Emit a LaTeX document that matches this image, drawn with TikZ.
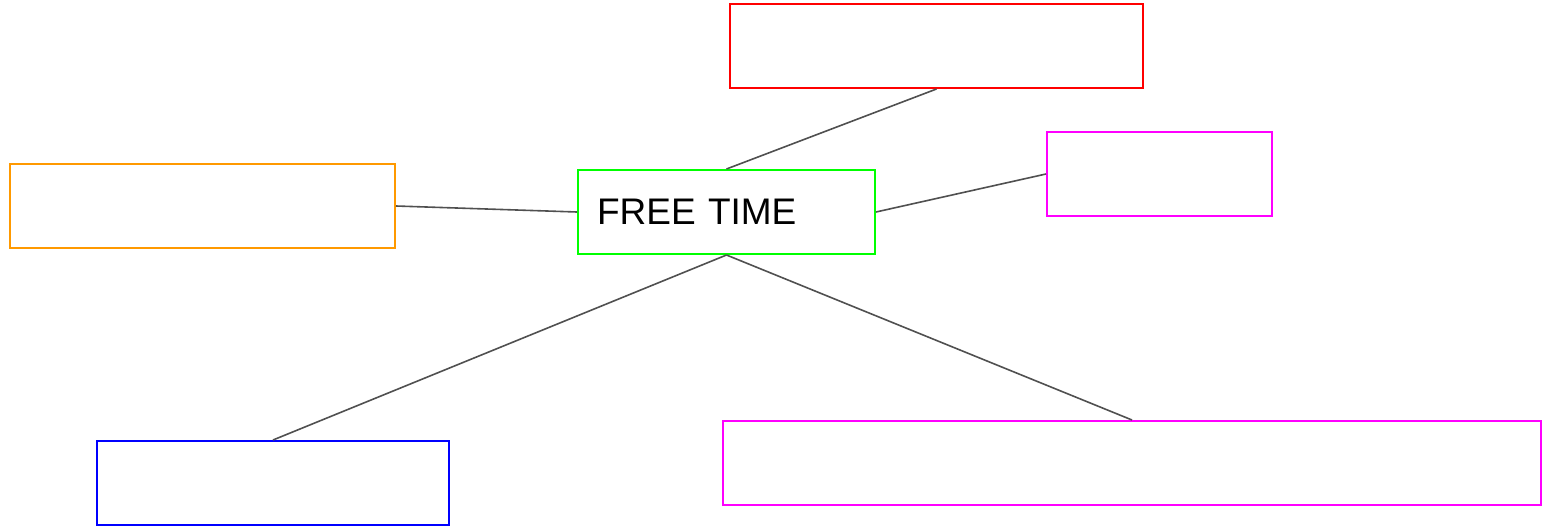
\documentclass[tikz,border=0pt]{standalone}
\usepackage{fontspec}
\setmainfont{Liberation Sans}
\usetikzlibrary{positioning}
\definecolor{linkgray}{HTML}{505050}
\definecolor{boxorange}{HTML}{FF9900}
\definecolor{boxmagenta}{HTML}{FF00FF}
\definecolor{boxgreen}{HTML}{00FF00}
\begin{document}
\begin{tikzpicture}[x=1pt,y=-1pt,
		topic/.style={draw,line width=2pt,rectangle,minimum height=84pt,inner sep=0pt},
		link/.style={draw=linkgray,line width=1.6pt}]
		
		% Frame
		\useasboundingbox (0,0) rectangle (1542,527);
		
		% Central topic
		\node[topic,draw=boxgreen,minimum width=297pt,
		text width=259pt,align=left,font=\fontsize{37}{44}\selectfont]
		(free) at (726.5,212) {FREE TIME};
		
		% Empty branch boxes
		\node[topic,draw=red,minimum width=413pt] (top) at (936.5,46) {};
		\node[topic,draw=boxmagenta,minimum width=225pt] (right) at (1159.5,174) {};
		\node[topic,draw=boxorange,minimum width=385pt] (left) at (202.5,206) {};
		\node[topic,draw=blue,minimum width=352pt] (lowleft) at (273,483) {};
		\node[topic,draw=boxmagenta,minimum width=818pt] (lowright) at (1132,463) {};
		
		% Links
		\draw[link] (free.north) -- (top.south);
		\draw[link] (free.east) -- (right.west);
		\draw[link] (left.east) -- (free.west);
		\draw[link] (free.south) -- (lowleft.north);
		\draw[link] (free.south) -- (lowright.north);
	\end{tikzpicture}
\end{document}
